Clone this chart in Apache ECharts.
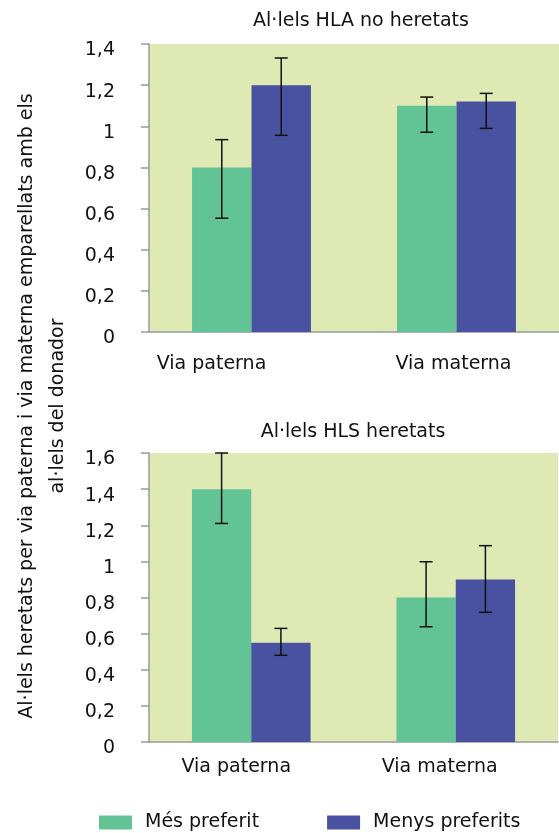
<!DOCTYPE html>
<html>
<head>
<meta charset="utf-8">
<script src="https://cdn.jsdelivr.net/npm/echarts@6/dist/echarts.min.js"></script>
<style>
    html, body { margin: 0; padding: 0; background: #fff; }
    #chart { width: 559px; height: 833px; }
</style>
</head>
<body>
<div id="chart"></div>
<script>
const categories = ['Via paterna', 'Via materna']
const seriesNames = ['Més preferit', 'Menys preferits']

// Al·lels HLA no heretats
const hlaMes = [0.8, 1.1]
const hlaMesErr = [[0.553, 0.935], [0.971, 1.142]]
const hlaMenys = [1.2, 1.12]
const hlaMenysErr = [[0.956, 1.332], [0.99, 1.16]]

// Al·lels HLS heretats
const hlsMes = [1.4, 0.8]
const hlsMesErr = [[1.21, 1.6], [0.638, 0.998]]
const hlsMenys = [0.55, 0.9]
const hlsMenysErr = [[0.48, 0.629], [0.718, 1.087]]

const green = '#62c394'
const blue = '#4852a1'
const bg = '#dee9b4'
const font = 'DejaVu Sans'
const fs = 19
const gap = 0.42

function fmt(v) {
    return String(+v.toFixed(1)).replace('.', ',')
}

function errData(err, idx) {
    return err.map((e, i) => [i, e[0], e[1], idx])
}

function errRender(params, api) {
    let cat = api.value(0)
    let lo = api.coord([cat, api.value(1)])
    let hi = api.coord([cat, api.value(2)])
    let band = api.size([1, 0])[0]
    let bw = band * (1 - gap) / 2
    let x = lo[0] + (api.value(3) === 0 ? -0.5 : 0.5) * bw
    let style = { stroke: '#111', lineWidth: 1.5 }
    return {
        type: 'group',
        children: [
            { type: 'line', shape: { x1: x, y1: lo[1], x2: x, y2: hi[1] }, style },
            { type: 'line', shape: { x1: x - 6.5, y1: lo[1], x2: x + 6.5, y2: lo[1] }, style },
            { type: 'line', shape: { x1: x - 6.5, y1: hi[1], x2: x + 6.5, y2: hi[1] }, style }
        ]
    }
}

function xAxisFor(gridIndex, shifts, margin) {
    return {
        type: 'category',
        gridIndex: gridIndex,
        data: categories.map((c, i) => ({
            value: c,
            textStyle: { padding: shifts[i] < 0 ? [0, -2 * shifts[i], 0, 0] : [0, 0, 0, 2 * shifts[i]] }
        })),
        axisLine: { lineStyle: { color: '#9a9a9a', width: 1.5 } },
        axisTick: { length: 8, lineStyle: { color: '#9a9a9a', width: 1.5 } },
        axisLabel: { color: '#111', fontSize: fs, fontFamily: font, margin: margin }
    }
}

function yAxisFor(gridIndex, max) {
    return {
        type: 'value',
        gridIndex: gridIndex,
        min: 0,
        max: max,
        interval: 0.2,
        splitLine: { show: false },
        axisLine: { show: true, lineStyle: { color: '#9a9a9a', width: 1.5 } },
        axisTick: { show: true, length: 8, lineStyle: { color: '#9a9a9a', width: 1.5 } },
        axisLabel: {
            color: '#111', fontSize: fs, fontFamily: font, margin: 34,
            verticalAlign: 'top', lineHeight: 13,
            formatter: fmt
        }
    }
}

function bars(name, data, color, idx) {
    return {
        name: name,
        type: 'bar',
        xAxisIndex: idx,
        yAxisIndex: idx,
        data: data,
        barGap: 0,
        barCategoryGap: (gap * 100) + '%',
        itemStyle: { color: color },
        z: 2
    }
}

function errs(data, idx) {
    return {
        type: 'custom',
        xAxisIndex: idx,
        yAxisIndex: idx,
        data: data,
        encode: { x: 0, y: [1, 2] },
        renderItem: errRender,
        silent: true,
        z: 5
    }
}

let chart = echarts.init(document.getElementById('chart'))

let option = {
    animation: false,
    backgroundColor: '#fff',
    textStyle: { fontFamily: font },
    title: [
        {
            text: 'Al·lels HLA no heretats',
            left: 356, top: 7, textAlign: 'center',
            textStyle: { fontSize: fs, fontWeight: 'normal', color: '#111', fontFamily: font }
        },
        {
            text: 'Al·lels HLS heretats',
            left: 348, top: 418, textAlign: 'center',
            textStyle: { fontSize: fs, fontWeight: 'normal', color: '#111', fontFamily: font }
        }
    ],
    legend: {
        data: seriesNames,
        left: 94,
        top: 808,
        icon: 'rect',
        itemWidth: 33,
        itemHeight: 14,
        itemGap: 68,
        textStyle: { fontSize: fs, color: '#111', fontFamily: font, padding: [0, 0, 0, 8] }
    },
    grid: [
        { left: 149, top: 44, right: 0, height: 288, show: true, backgroundColor: bg, borderWidth: 0 },
        { left: 149, top: 453, right: 1, height: 289, show: true, backgroundColor: bg, borderWidth: 0 }
    ],
    xAxis: [
        xAxisFor(0, [-40, -3], 23),
        xAxisFor(1, [-15, -16], 16)
    ],
    yAxis: [
        yAxisFor(0, 1.4),
        yAxisFor(1, 1.6)
    ],
    graphic: [
        {
            type: 'text',
            x: 27, y: 406, rotation: Math.PI / 2,
            style: {
                text: 'Al·lels heretats per via paterna i via materna emparellats amb els',
                fontSize: fs, fontFamily: font, fill: '#111',
                textAlign: 'center', textVerticalAlign: 'middle'
            }
        },
        {
            type: 'text',
            x: 58, y: 406, rotation: Math.PI / 2,
            style: {
                text: 'al·lels del donador',
                fontSize: fs, fontFamily: font, fill: '#111',
                textAlign: 'center', textVerticalAlign: 'middle'
            }
        }
    ],
    series: [
        bars(seriesNames[0], hlaMes, green, 0),
        bars(seriesNames[1], hlaMenys, blue, 0),
        errs(errData(hlaMesErr, 0), 0),
        errs(errData(hlaMenysErr, 1), 0),
        bars(seriesNames[0], hlsMes, green, 1),
        bars(seriesNames[1], hlsMenys, blue, 1),
        errs(errData(hlsMesErr, 0), 1),
        errs(errData(hlsMenysErr, 1), 1)
    ]
}

chart.setOption(option)
</script>
</body>
</html>
